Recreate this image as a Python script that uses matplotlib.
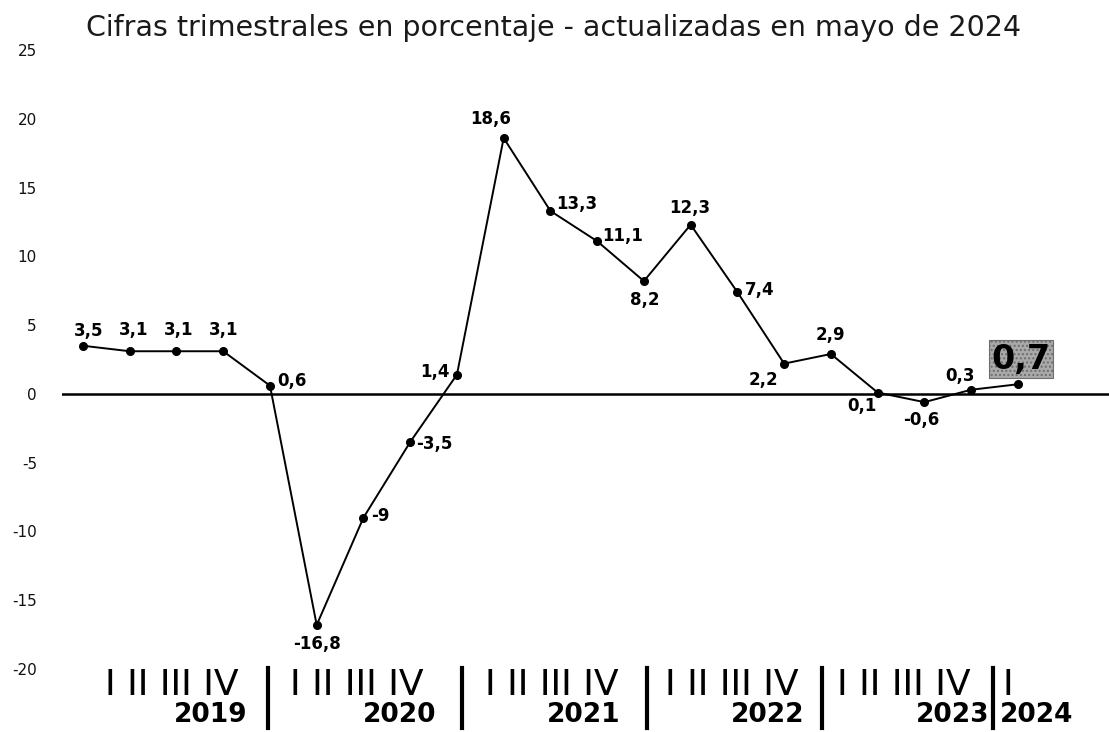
import matplotlib
matplotlib.use("Agg")
import matplotlib.pyplot as plt
import matplotlib.transforms as mtransforms

# datos: variación trimestral en porcentaje, 2019-I a 2024-I
years = ["2019", "2020", "2021", "2022", "2023", "2024"]
quarters = ["I", "II", "III", "IV"]
values = [3.5, 3.1, 3.1, 3.1,
          0.6, -16.8, -9, -3.5,
          1.4, 18.6, 13.3, 11.1,
          8.2, 12.3, 7.4, 2.2,
          2.9, 0.1, -0.6, 0.3,
          0.7]
y_ticks = [25, 20, 15, 10, 5, 0, -5, -10, -15, -20]
title = "Cifras trimestrales en porcentaje - actualizadas en mayo de 2024"

# posición de cada etiqueta respecto a su punto (píxeles)
label_offsets = [(6, 15), (4, 21), (2, 21), (0, 21),
                 (22, 5), (0, -19), (17, 2), (24, -2),
                 (-22, 3), (-13, 19), (26, 7), (25, 5),
                 (1, -19), (-1, 17), (22, 2), (-21, -16),
                 (0, 19), (-16, -13), (-3, -18), (-11, 14),
                 (3, 25)]

# eje inferior dibujado a mano (en unidades de trimestre)
roman_left = [0.47, 4.43, 8.6, 12.45, 16.13, 19.68]
year_right = [3.53, 7.57, 11.49, 15.44, 19.4]
year_2024_left = 19.61
separators = [3.96, 8.11, 12.06, 15.81, 19.47]

W, H = 1109, 732
fig = plt.figure(figsize=(W / 100, H / 100), dpi=100)
ax = fig.add_axes([62 / W, (H - 669) / H, (W - 62) / W, (669 - 50) / H])

x = list(range(len(values)))
ax.axhline(0, color="black", lw=1.8, zorder=1)
ax.plot(x, values, color="black", lw=1.4, marker="o", ms=5.5, zorder=3, clip_on=False)

for i, v in enumerate(values):
    txt = f"{v:g}".replace(".", ",")
    dx, dy = label_offsets[i]
    if i == len(values) - 1:
        ax.annotate(txt, (i, v), xytext=(dx, dy), textcoords="offset pixels",
                    ha="center", va="center", fontsize=24, fontweight="bold",
                    bbox=dict(boxstyle="square,pad=0.08", facecolor="#a9a9a9",
                              edgecolor="#6e6e6e", hatch="....", lw=0.8))
    else:
        ax.annotate(txt, (i, v), xytext=(dx, dy), textcoords="offset pixels",
                    ha="center", va="center", fontsize=12, fontweight="bold")

ax.set_xlim(-0.449, 21.95)
ax.set_ylim(-20, 25)
ax.set_xticks([])
ax.set_yticks(y_ticks)
ax.set_yticklabels([str(t) for t in y_ticks], fontsize=11, color="#111111")
ax.tick_params(axis="y", length=0, pad=18)
for s in ax.spines.values():
    s.set_visible(False)

# rótulos de trimestres, años y separadores
tr = mtransforms.blended_transform_factory(ax.transData, fig.transFigure)
roman = " ".join(quarters)
for k, yr in enumerate(years):
    lab = roman if k < len(years) - 1 else quarters[0]
    ax.text(roman_left[k], (H - 695) / H, lab, transform=tr, ha="left",
            va="baseline", fontsize=26, color="black", clip_on=False)
    if k < len(years) - 1:
        ax.text(year_right[k], (H - 722) / H, yr, transform=tr, ha="right",
                va="baseline", fontsize=19, fontweight="bold", clip_on=False)
    else:
        ax.text(year_2024_left, (H - 722) / H, yr, transform=tr, ha="left",
                va="baseline", fontsize=19, fontweight="bold", clip_on=False)
for sx in separators:
    ax.plot([sx, sx], [(H - 728) / H, (H - 668) / H], transform=tr,
            color="black", lw=3, clip_on=False)

fig.text(86 / W, (H - 36) / H, title, ha="left", va="baseline",
         fontsize=20.5, color="#1a1a1a")

fig.savefig("out.png", dpi=100)
